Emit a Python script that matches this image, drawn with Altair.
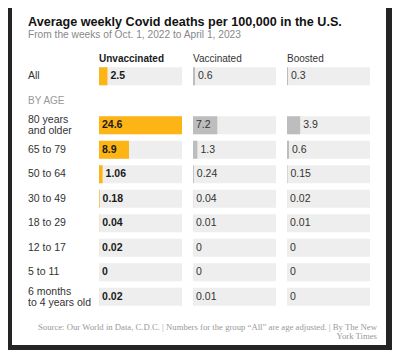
import altair as alt
import pandas as pd

TITLE = "Average weekly Covid deaths per 100,000 in the U.S."
SUBTITLE = "From the weeks of Oct. 1, 2022 to April 1, 2023"
SOURCE = "Source: Our World in Data, C.D.C. | Numbers for the group \u201cAll\u201d are age adjusted. | By The New\nYork Times"
SECTION = "BY AGE"

columns = ["Unvaccinated", "Vaccinated", "Boosted"]
groups = ["All", "80 years\nand older", "65 to 79", "50 to 64", "30 to 49",
          "18 to 29", "12 to 17", "5 to 11", "6 months\nto 4 years old"]
unvaccinated = [2.5, 24.6, 8.9, 1.06, 0.18, 0.04, 0.02, 0, 0.02]
vaccinated = [0.6, 7.2, 1.3, 0.24, 0.04, 0.01, 0, 0, 0.01]
boosted = [0.3, 3.9, 0.6, 0.15, 0.02, 0.01, 0, 0, 0]

series = dict(zip(columns, [unvaccinated, vaccinated, boosted]))
row_order = [groups[0], SECTION] + groups[1:]
MAX = max(max(v) for v in series.values())

rows = []
for c, vals in series.items():
    for g, v in zip(groups, vals):
        rows.append({"col": c, "group": g, "value": v, "label": f"{v:g}",
                     "lx": 0 if v > 6 else v, "zero": 0, "top": MAX})
df = pd.DataFrame(rows)

FONT = "Liberation Sans"
DARK = "#242424"
BG_BAR = "#eeeeee"
COLORS = {"Unvaccinated": "#fdb515", "Vaccinated": "#bdbdbd", "Boosted": "#bdbdbd"}
COL_W = 83
COL_STEP = 94

Y = alt.Y("group:N", scale=alt.Scale(domain=row_order, paddingInner=0.265, paddingOuter=0.133), axis=None)

one = pd.DataFrame({"k": [0]})

layers = []
card = alt.Chart(one).mark_rect(color="white").encode(
    x=alt.value(-87), x2=alt.value(287), y=alt.value(-60), y2=alt.value(281))
layers.append(card)

for i, c in enumerate(columns):
    xs = alt.Scale(domain=[0, MAX], range=[i * COL_STEP, i * COL_STEP + COL_W], nice=False)
    base = alt.Chart(df).transform_filter(alt.datum.col == c)
    bg = base.mark_bar(color=BG_BAR).encode(
        x=alt.X("zero:Q", scale=xs, axis=None), x2="top:Q", y=Y)
    bar = base.mark_bar(color=COLORS[c]).encode(
        x=alt.X("value:Q", scale=xs, axis=None), y=Y)
    bold = i == 0
    txt = base.mark_text(align="left", baseline="middle", dx=3, font=FONT,
                         fontSize=10.5, fontWeight="bold" if bold else "normal",
                         color="#1a1a1a" if bold else "#333333").encode(
        x=alt.X("lx:Q", scale=xs, axis=None), y=Y, text="label:N")
    hdr = alt.Chart(pd.DataFrame({"col": [c], "zero": [0]})).mark_text(
        align="left", baseline="alphabetic", font=FONT, fontSize=10,
        fontWeight="bold" if bold else "normal",
        color="#1a1a1a" if bold else "#333333").encode(
        x=alt.X("zero:Q", scale=xs, axis=None), y=alt.value(-2.3), text="col:N")
    layers += [bg, bar, txt, hdr]

single = [g for g in groups if "\n" not in g]
multi = [g for g in groups if "\n" in g]
labels1 = alt.Chart(pd.DataFrame({"group": single})).mark_text(
    align="left", baseline="middle", font=FONT, fontSize=10.5,
    color="#333333").encode(x=alt.value(-71), y=Y, text="group:N")
labels2 = alt.Chart(pd.DataFrame({"group": multi})).mark_text(
    align="left", baseline="middle", lineBreak="\n", font=FONT, fontSize=10.5,
    lineHeight=11, dy=-5, color="#333333").encode(x=alt.value(-71), y=Y, text="group:N")
section = alt.Chart(pd.DataFrame({"group": [SECTION]})).mark_text(
    align="left", baseline="middle", font=FONT, fontSize=10,
    color="#999999").encode(x=alt.value(-71), y=Y, text="group:N")
title = alt.Chart(pd.DataFrame({"t": [TITLE]})).mark_text(
    align="left", baseline="alphabetic", font=FONT, fontSize=12.6, fontWeight="bold",
    color="#121212").encode(x=alt.value(-71), y=alt.value(-38.5), text="t:N")
subtitle = alt.Chart(pd.DataFrame({"t": [SUBTITLE]})).mark_text(
    align="left", baseline="alphabetic", font=FONT, fontSize=10.2,
    color="#888888").encode(x=alt.value(-71), y=alt.value(-26.5), text="t:N")
footer = alt.Chart(pd.DataFrame({"t": [SOURCE]})).mark_text(
    align="right", baseline="alphabetic", font="Liberation Serif", fontSize=8.7,
    lineBreak="\n", lineHeight=9.5, color="#999999").encode(
    x=alt.value(278), y=alt.value(265.5), text="t:N")
layers += [labels1, labels2, section, title, subtitle, footer]

chart = alt.layer(*layers).resolve_scale(x="independent").properties(
    width=271, height=245,
    autosize=alt.AutoSizeParams(type="none"),
    padding={"left": 91, "top": 56, "right": 22, "bottom": 41},
    background=DARK,
).configure_view(stroke=None)

chart.save("out.html", embed_options={"renderer": "svg", "actions": False})
